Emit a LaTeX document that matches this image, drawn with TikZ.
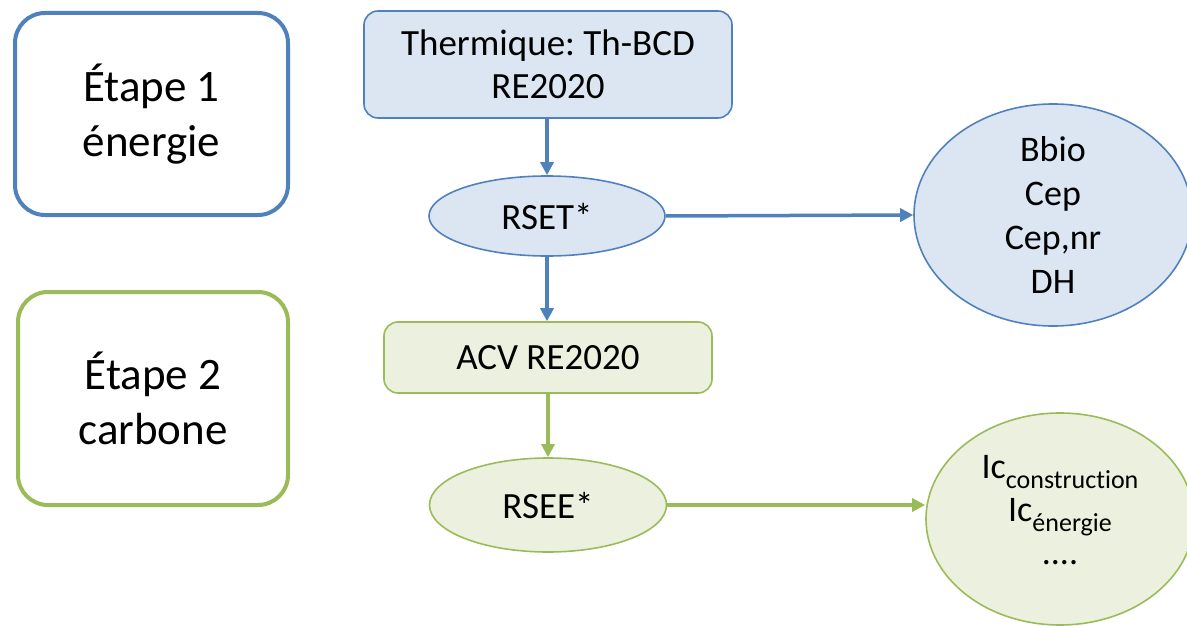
\documentclass[tikz,border=0pt]{standalone}
\usepackage{fontspec}
\setmainfont{Carlito}
\usetikzlibrary{shapes.geometric,arrows.meta}
\definecolor{bblue}{HTML}{4F81BD}
\definecolor{fblue}{HTML}{DCE6F2}
\definecolor{bgreen}{HTML}{9BBB59}
\definecolor{fgreen}{HTML}{EBF1DE}
\frenchspacing
\tikzset{
  stagebox/.style={draw, line width=4pt, rounded corners=30pt, fill=white, align=center, inner sep=0pt, font=\fontsize{45}{55}\selectfont},
  procbox/.style={draw, line width=1.6pt, rounded corners=14pt, align=center, inner sep=0pt, font=\fontsize{37}{43}\selectfont},
  resell/.style={draw, ellipse, line width=1.6pt, align=center, inner sep=0pt, font=\fontsize{36}{44}\selectfont},
  flow/.style={line width=3.5pt, -{Triangle[length=13pt,width=13pt]}},
}
\newcommand{\subtxt}[1]{\raisebox{-0.3em}{\fontsize{26}{28}\selectfont #1}}
\begin{document}
\begin{tikzpicture}[x=1pt,y=-1pt]
\useasboundingbox (0,0) rectangle (1187,626);
\clip (0,0) rectangle (1187,626);
% stage boxes
\node[stagebox, draw=bblue, minimum width=273pt, minimum height=202pt] (st1) at (151.5,114) {Étape 1\\énergie};
\node[stagebox, draw=bgreen, minimum width=270pt, minimum height=213pt] (st2) at (153,398.5) {Étape 2\\carbone};
% process boxes
\node[procbox, draw=bblue, fill=fblue, minimum width=368pt, minimum height=107pt] (th) at (548,64.5) {Thermique: Th-BCD\\RE2020};
\node[procbox, draw=bgreen, fill=fgreen, minimum width=328pt, minimum height=71pt] (acv) at (548,357.5) {ACV RE2020};
% ellipses
\node[resell, draw=bblue, fill=fblue, minimum width=236pt, minimum height=80pt, font=\fontsize{37}{44}\selectfont] (rset) at (547,216) {RSET*};
\node[resell, draw=bgreen, fill=fgreen, minimum width=237pt, minimum height=94pt, font=\fontsize{37}{44}\selectfont] (rsee) at (548,505) {RSEE*};
\node[resell, draw=bblue, fill=fblue, minimum width=278pt, minimum height=194pt] (res1) at (1053,215) {Bbio\\Cep\\Cep,nr\\DH};
\node[resell, draw=bgreen, fill=fgreen, minimum width=268pt, minimum height=212pt, font=\fontsize{36}{43}\selectfont] (res2) at (1060,519) {Ic\subtxt{construct\kern0pt ion}\\Ic\subtxt{énergie}\\....\\[-24pt]};
% connectors
\draw[flow, bblue] (th.south -| rset.north) -- (rset.north);
\draw[flow, bblue] (rset.south) -- (acv.north -| rset.south);
\draw[flow, bblue] (rset.east) -- (res1.west);
\draw[flow, bgreen] (acv.south) -- (rsee.north);
\draw[flow, bgreen] (rsee.east) -- (rsee.east -| res2.west);
\end{tikzpicture}
\end{document}
